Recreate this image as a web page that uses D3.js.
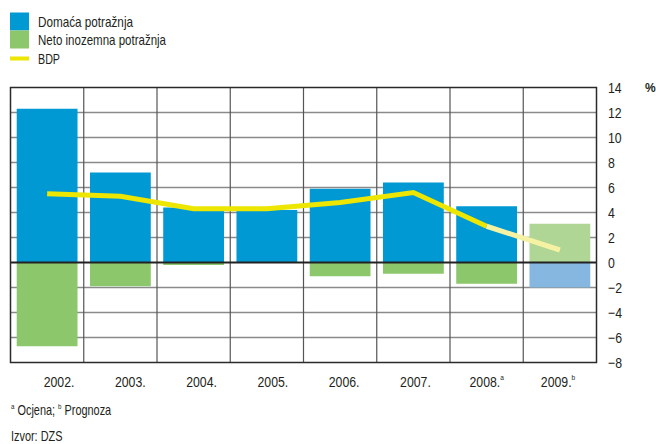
<!DOCTYPE html>
<html>
<head>
<meta charset="utf-8">
<script src="https://cdn.jsdelivr.net/npm/d3@7"></script>
<style>
  html, body { margin: 0; padding: 0; background: #fff; }
  svg { display: block; }
  text { font-family: "Liberation Sans", Arial, sans-serif; fill: #231f20; }
</style>
</head>
<body>
<svg id="chart" width="656" height="444"></svg>
<script>
const years = ["2002.", "2003.", "2004.", "2005.", "2006.", "2007.", "2008.", "2009."];
const yearSup = ["", "", "", "", "", "", "a", "b"];
const domestic = [12.3, 7.2, 4.4, 4.2, 5.9, 6.4, 4.5, -2.0];
const netForeign = [-6.7, -1.9, -0.2, 0, -1.1, -0.9, -1.7, 3.1];
const gdp = [5.5, 5.3, 4.3, 4.3, 4.8, 5.6, 2.9, 1.0];
const yTicks = [-8, -6, -4, -2, 0, 2, 4, 6, 8, 10, 12, 14];
const legendLabels = ["Domaća potražnja", "Neto inozemna potražnja", "BDP"];

const C = {
  blue: "#0099d4", green: "#8dc76b",
  blueLight: "#85b7e0", greenLight: "#afd694",
  yellow: "#ece600", yellowLight: "#f6f2a4",
  grid: "#8a8a8a", vgrid: "#555", frame: "#2a2a2a"
};
const SX = 0.82; // condensed look

const svg = d3.select("#chart");
const L = 10.5, R = 596.5, T = 87.5, B = 362.5;
const pad = 0.17;
const x = d3.scaleBand().domain(years).range([L, R]).paddingInner(pad).paddingOuter(pad / 2);
const y = d3.scaleLinear().domain([-8, 14]).range([B, T]);
const xl = d3.scalePoint().domain(years).range([59, 558]);
const step = x.step();

// horizontal grid
svg.append("g").selectAll("line").data(yTicks.filter(v => v !== 0 && v !== 14 && v !== -8)).join("line")
  .attr("x1", L).attr("x2", R).attr("y1", d => y(d)).attr("y2", d => y(d))
  .attr("stroke", C.grid).attr("stroke-width", 1.4);

// vertical grid
svg.append("g").selectAll("line").data(years.slice(1)).join("line")
  .attr("x1", d => x(d) - step * pad / 2).attr("x2", d => x(d) - step * pad / 2)
  .attr("y1", T).attr("y2", B)
  .attr("stroke", C.vgrid).attr("stroke-width", 1.2);

// bars
const rows = years.map((yr, i) => ({ yr, i, d: domestic[i], n: netForeign[i] }));
const bars = svg.append("g");
bars.selectAll("rect.dom").data(rows).join("rect").attr("class", "dom")
  .attr("x", r => x(r.yr)).attr("width", x.bandwidth())
  .attr("y", r => y(Math.max(0, r.d))).attr("height", r => Math.abs(y(r.d) - y(0)))
  .attr("fill", r => r.i === 7 ? C.blueLight : C.blue);
bars.selectAll("rect.net").data(rows.filter(r => r.n !== 0)).join("rect").attr("class", "net")
  .attr("x", r => x(r.yr)).attr("width", x.bandwidth())
  .attr("y", r => y(Math.max(0, r.n))).attr("height", r => Math.abs(y(r.n) - y(0)))
  .attr("fill", r => r.i === 7 ? C.greenLight : C.green);

// zero line
svg.append("line").attr("x1", L).attr("x2", R).attr("y1", y(0)).attr("y2", y(0))
  .attr("stroke", "#222").attr("stroke-width", 2);

// frame
svg.append("rect").attr("x", L).attr("y", T).attr("width", R - L).attr("height", B - T)
  .attr("fill", "none").attr("stroke", C.frame).attr("stroke-width", 1.5);

// GDP line
const pts = years.map((yr, i) => [x(yr) + x.bandwidth() / 2, y(gdp[i])]);
const line = d3.line();
svg.append("path").attr("d", line(pts.slice(0, 7))).attr("fill", "none")
  .attr("stroke", C.yellow).attr("stroke-width", 5).attr("stroke-linejoin", "miter");
svg.append("path").attr("d", line(pts.slice(6, 8))).attr("fill", "none")
  .attr("stroke", C.yellowLight).attr("stroke-width", 5);

// right axis
const axis = d3.axisRight(y).tickValues(yTicks).tickSize(0).tickPadding(0);
const ag = svg.append("g").attr("transform", `translate(608,0)`).call(axis);
ag.select(".domain").remove();
ag.selectAll("text").attr("font-size", 15).attr("font-family", null).attr("fill", "#231f20")
  .attr("dy", "0.36em").attr("transform", `scale(${SX},1)`);
svg.append("text").attr("x", 645).attr("y", 92).attr("font-size", 12).attr("font-weight", "bold").text("%");

// x labels
const xt = svg.append("g").selectAll("g").data(years).join("g")
  .attr("transform", d => `translate(${xl(d)},387) scale(${SX},1)`)
  .append("text").attr("text-anchor", "middle").attr("font-size", 15);
xt.append("tspan").text(d => d);
xt.filter((d, i) => yearSup[i]).append("tspan").attr("font-size", 8).attr("dy", -7)
  .text(d => yearSup[years.indexOf(d)]);

// legend
svg.append("rect").attr("x", 10).attr("y", 12.5).attr("width", 19).attr("height", 18).attr("fill", C.blue);
svg.append("rect").attr("x", 10).attr("y", 30.5).attr("width", 19).attr("height", 18).attr("fill", C.green);
svg.append("rect").attr("x", 10).attr("y", 56.5).attr("width", 19).attr("height", 4).attr("fill", C.yellow);
const lgY = [26.5, 44.5, 64];
const lgW = [95, 128, 22];
legendLabels.forEach((t, i) => {
  svg.append("text").attr("x", 38).attr("y", lgY[i]).attr("font-size", 15)
    .attr("textLength", lgW[i]).attr("lengthAdjust", "spacingAndGlyphs").text(t);
});

// footnotes
const fn = svg.append("g").attr("transform", `translate(11,415) scale(${SX * 0.95},1)`)
  .append("text").attr("font-size", 14);
fn.append("tspan").attr("font-size", 8).attr("dy", -6).text("a");
fn.append("tspan").attr("dy", 6).text(" Ocjena; ");
fn.append("tspan").attr("font-size", 8).attr("dy", -6).text("b");
fn.append("tspan").attr("dy", 6).text(" Prognoza");
svg.append("g").attr("transform", `translate(11,441) scale(${SX * 0.95},1)`)
  .append("text").attr("font-size", 14).text("Izvor: DZS");
</script>
</body>
</html>
